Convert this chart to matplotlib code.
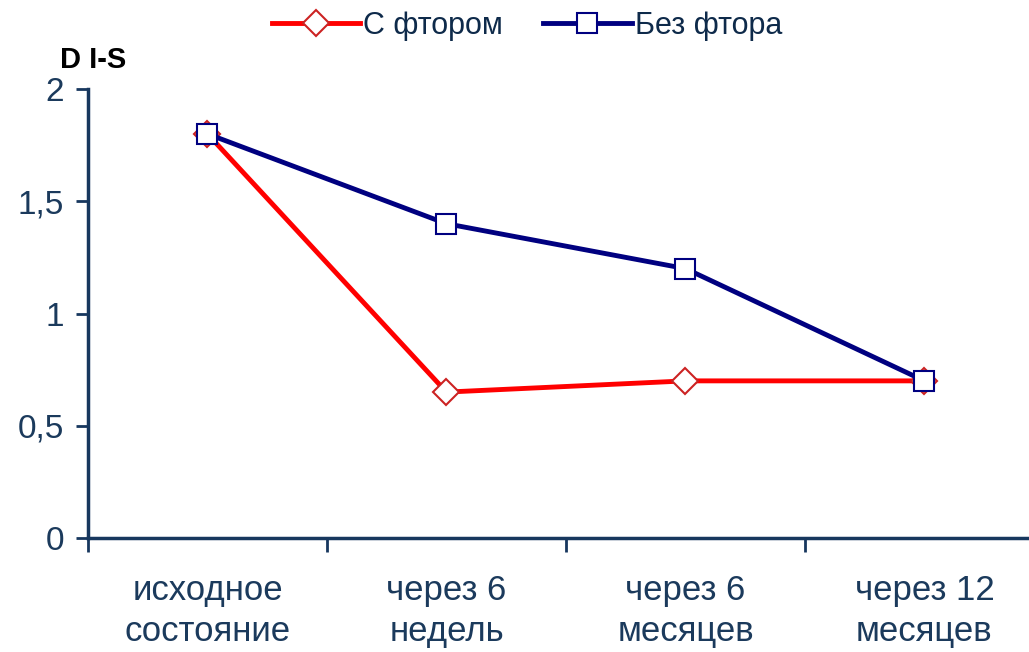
import matplotlib.pyplot as plt

categories = ["исходное\nсостояние", "через 6\nнедель", "через 6\nмесяцев", "через 12\nмесяцев"]
with_fluor = [1.8, 0.65, 0.7, 0.7]
without_fluor = [1.8, 1.4, 1.2, 0.7]
yticks = [0, 0.5, 1, 1.5, 2]
ytick_labels = ["0", "0,5", "1", "1,5", "2"]

plt.rcParams['font.family'] = ['Liberation Sans', 'DejaVu Sans']
axis_col = "#17375E"
text_col = "#1B3A5C"

fig = plt.figure(figsize=(10.29, 6.52), dpi=100)
ax = fig.add_axes([0.0855, 0.1748, 0.929, 0.6887])

x = range(len(categories))
ax.plot(x, with_fluor, color="#FF0000", lw=3.5, marker="D", ms=13,
        mfc="white", mec="#CC2222", mew=1.5, label="С фтором", zorder=3)
ax.plot(x, without_fluor, color="#000080", lw=3.5, marker="s", ms=14,
        mfc="white", mec="#000080", mew=1.5, label="Без фтора", zorder=4)

ax.set_xlim(-0.5, 3.5)
ax.set_ylim(0, 2)
ax.set_yticks(yticks)
ax.set_yticklabels(ytick_labels, fontsize=24, color=text_col)
ax.set_xticks(list(x))
ax.set_xticklabels(categories, fontsize=25, color=text_col, linespacing=1.3)
ax.set_xticks([-0.5, 0.5, 1.5, 2.5], minor=True)
ax.tick_params(axis="x", which="major", length=0, pad=26)
ax.tick_params(axis="x", which="minor", length=10, width=2, color=axis_col, direction="out")
ax.tick_params(axis="y", length=9, width=2, color=axis_col, direction="out", pad=8)

for side in ["top", "right"]:
    ax.spines[side].set_visible(False)
for side in ["left", "bottom"]:
    ax.spines[side].set_color(axis_col)
    ax.spines[side].set_linewidth(2.5)

fig.text(0.058, 0.895, "D I-S", fontsize=21, fontweight="bold", color="black")

ax.legend(loc="center", bbox_to_anchor=(0.512, 0.96), bbox_transform=fig.transFigure,
          ncol=2, frameon=False, fontsize=22, handlelength=2.9, handletextpad=0.1,
          columnspacing=1.3, labelcolor="#0E2A4A", borderpad=0)

fig.savefig("out.png", dpi=100)
